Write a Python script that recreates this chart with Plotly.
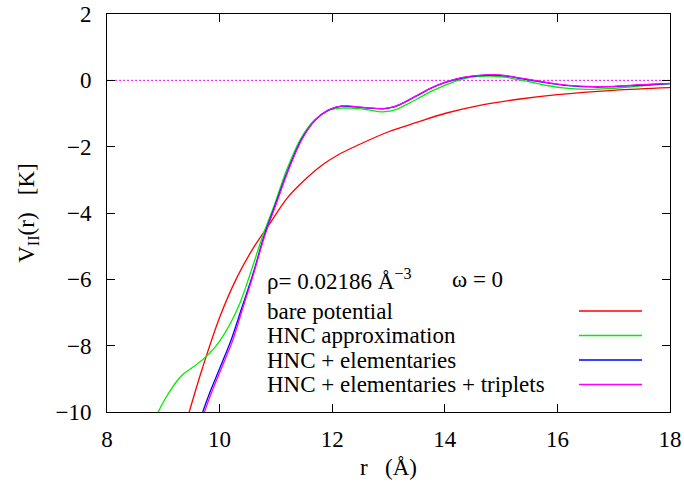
import plotly.graph_objects as go

# Effective interaction V_II(r) in K versus r in Angstrom
bare_r = [9.46, 9.7, 10.0, 10.3, 10.6, 10.9, 11.2, 11.5, 11.8, 12.1, 12.5, 13.0,
          13.5, 14.0, 14.6, 15.3, 16.0, 17.0, 18.0]
bare_v = [-10.0, -8.65, -7.15, -5.97, -5.05, -4.3, -3.55, -3.02, -2.58, -2.25, -1.92, -1.55,
          -1.27, -1.0, -0.76, -0.57, -0.43, -0.30, -0.22]

hnc_r = [8.91, 9.0, 9.12, 9.25, 9.36, 9.55, 9.74, 9.9, 10.01, 10.19, 10.36, 10.55,
         10.78, 10.97, 11.2, 11.44, 11.68, 11.92, 12.15, 12.35, 12.6, 12.9, 13.1,
         13.3, 13.5, 13.74, 14.0, 14.3, 14.55, 14.81, 15.1, 15.3, 15.52, 15.8, 16.1,
         16.53, 16.9, 17.4, 18.0]
hnc_v = [-10.0, -9.7, -9.36, -9.05, -8.85, -8.62, -8.36, -8.08, -7.84, -7.33, -6.72, -5.8,
         -4.62, -3.77, -2.66, -1.76, -1.2, -0.92, -0.84, -0.84, -0.88, -0.95, -0.9,
         -0.75, -0.57, -0.35, -0.15, 0.03, 0.11, 0.13, 0.09, 0.02, -0.05, -0.15, -0.23,
         -0.27, -0.25, -0.18, -0.10]

elem_r = [9.70, 9.83, 9.95, 10.07, 10.19, 10.39, 10.6, 10.78, 10.99, 11.22, 11.46, 11.7,
          11.93, 12.17, 12.41, 12.6, 12.9, 13.1, 13.3, 13.5, 13.74, 14.0, 14.3, 14.6,
          14.87, 15.1, 15.3, 15.52, 15.8, 16.2, 16.64, 17.0, 17.5, 18.0]
elem_v = [-10.0, -9.4, -8.9, -8.4, -7.9, -6.88, -5.8, -4.75, -3.75, -2.68, -1.76, -1.2,
          -0.9, -0.78, -0.8, -0.83, -0.86, -0.8, -0.65, -0.47, -0.25, -0.07, 0.07, 0.14,
          0.16, 0.13, 0.07, 0.01, -0.07, -0.16, -0.20, -0.19, -0.14, -0.10]

trip_r = [9.73, 9.86, 9.98, 10.1, 10.22, 10.41, 10.61, 10.79, 11.0, 11.23, 11.47, 11.7,
          11.93, 12.17, 12.41, 12.6, 12.9, 13.1, 13.3, 13.5, 13.74, 14.0, 14.3, 14.6,
          14.87, 15.1, 15.3, 15.52, 15.8, 16.2, 16.64, 17.0, 17.5, 18.0]
trip_v = [-10.0, -9.4, -8.9, -8.4, -7.9, -6.88, -5.8, -4.75, -3.75, -2.68, -1.76, -1.2,
          -0.9, -0.77, -0.79, -0.82, -0.85, -0.79, -0.64, -0.46, -0.24, -0.06, 0.08, 0.15,
          0.17, 0.14, 0.08, 0.02, -0.06, -0.15, -0.19, -0.18, -0.13, -0.09]

series_names = ["bare potential", "HNC approximation", "HNC + elementaries",
                "HNC + elementaries + triplets"]
series_colors = ["#ff0000", "#00ee00", "#0000ff", "#ff00ff"]
series_data = [(bare_r, bare_v), (hnc_r, hnc_v), (elem_r, elem_v), (trip_r, trip_v)]

x_ticks = [8, 10, 12, 14, 16, 18]
y_ticks = [-10, -8, -6, -4, -2, 0, 2]

FONT = "Liberation Serif, Times New Roman, serif"
FS = 23

fig = go.Figure()

# dotted zero axis
fig.add_trace(go.Scatter(x=[8, 18], y=[0, 0], mode="lines",
                         line=dict(color="#ff00ff", width=1, dash="2px,2px"),
                         showlegend=False, hoverinfo="skip"))

for (xs, ys), name, col in zip(series_data, series_names, series_colors):
    fig.add_trace(go.Scatter(x=xs, y=ys, mode="lines", name=name,
                             line=dict(color=col, width=1.3, shape="spline", smoothing=1.0),
                             showlegend=False))

axis_common = dict(showline=True, linecolor="black", linewidth=1, mirror="ticks",
                   ticks="inside", ticklen=8, tickcolor="black", showgrid=False,
                   zeroline=False, automargin=False,
                   tickfont=dict(family=FONT, size=FS, color="black"))

fig.update_xaxes(range=[8, 18], tickvals=x_ticks, ticktext=[str(t) for t in x_ticks],
                 title=dict(text="r\u00a0\u00a0\u00a0(Å)", font=dict(family=FONT, size=FS),
                            standoff=8),
                 ticklabelstandoff=6, **axis_common)
fig.update_yaxes(range=[-10, 2], tickvals=y_ticks,
                 ticktext=[("\u2212" + str(-t)) if t < 0 else str(t) for t in y_ticks],
                 title=dict(text="V<sub>II</sub>(r)\u00a0\u00a0\u00a0[K]",
                            font=dict(family=FONT, size=FS), standoff=14),
                 ticklabelstandoff=10, **axis_common)

# key block: header line, then text at left and a line sample at right for each series
W, H = 684, 482
x0p, x1p, y0p, y1p = 107, 670, 14, 412


def px_to_paper(xp, yp):
    return (xp - x0p) / (x1p - x0p), 1 - (yp - y0p) / (y1p - y0p)


annotations = []
for text, xp, yp in [("ρ= 0.02186 Å<sup>−3</sup>", 265, 279), ("ω = 0", 450, 279)]:
    px, py = px_to_paper(xp, yp)
    annotations.append(dict(text=text, x=px, y=py))

key_rows_y = [311, 335.5, 360, 384.5]
shapes = []
for name, col, yy in zip(series_names, series_colors, key_rows_y):
    px, py = px_to_paper(265, yy)
    annotations.append(dict(text=name, x=px, y=py))
    sx0, _ = px_to_paper(579, yy)
    sx1, _ = px_to_paper(642, yy)
    shapes.append(dict(type="line", xref="paper", yref="paper",
                       x0=sx0, x1=sx1, y0=py, y1=py, line=dict(color=col, width=1.3)))

for a in annotations:
    a.update(xref="paper", yref="paper", xanchor="left", yanchor="middle",
             showarrow=False, font=dict(family=FONT, size=FS, color="black"))

fig.update_layout(width=W, height=H, margin=dict(l=x0p, r=W - x1p, t=y0p, b=H - y1p),
                  plot_bgcolor="white", paper_bgcolor="white",
                  font=dict(family=FONT, size=FS, color="black"),
                  annotations=annotations, shapes=shapes, showlegend=False)

fig.write_html("out.html")
